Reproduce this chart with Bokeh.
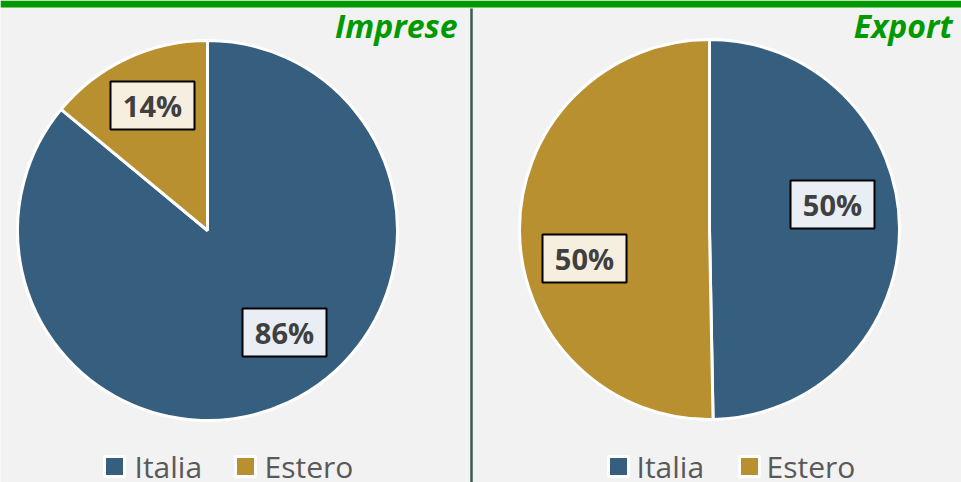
import math
from bokeh.plotting import figure
from bokeh.models import Range1d, ColumnDataSource
from bokeh.core.properties import value
from bokeh.embed import file_html
from bokeh.resources import INLINE

# ---- data ----
panels = ["Imprese", "Export"]
categories = ["Italia", "Estero"]
imprese_values = [86.0, 14.0]
export_values = [49.7, 50.3]
colors = ["#365e7e", "#b8902f"]
label_fills = ["#e9eef5", "#f6efe0"]

# ---- layout (reference pixel coords, y measured from top) ----
W, H = 961, 482
def Y(y):
    return H - y

centers = [(207, 230), (709, 229)]
radius = 190
# label box centres per panel, per category (layout constants)
label_pos = [[(284, 332), (152, 105)], [(832, 204), (584, 258)]]
title_pos = [(457, 25), (952, 25)]
legend_x = [[(114, 134), (245, 264)], [(618, 636), (749, 766)]]
legend_y = 466

p = figure(width=W, height=H, x_range=Range1d(0, W), y_range=Range1d(0, H),
           output_backend="svg", toolbar_location=None, min_border=0)
p.axis.visible = False
p.grid.visible = False
p.outline_line_color = None
p.background_fill_color = "#f2f2f2"
p.border_fill_color = "#f2f2f2"

# top green bar and divider
p.quad(left=[0], right=[W], bottom=[Y(7)], top=[H], fill_color="#009900", line_color=None)
p.segment(x0=[471], y0=[Y(8)], x1=[471], y1=[0], line_color="#3b5a52", line_width=2.5)

for i, vals in enumerate([imprese_values, export_values]):
    cx, cy = centers[i]
    total = sum(vals)
    start = math.pi / 2
    starts, ends = [], []
    for v in vals:
        span = v / total * 2 * math.pi
        # clockwise from 12 o'clock
        ends.append(start)
        starts.append(start - span)
        start = start - span
    src = ColumnDataSource(dict(x=[cx] * len(vals), y=[Y(cy)] * len(vals),
                                start=starts, end=ends, color=colors))
    p.wedge(x="x", y="y", radius=radius, start_angle="start", end_angle="end",
            fill_color="color", line_color="white", line_width=3, source=src)

    # data labels
    lx = [label_pos[i][k][0] for k in range(len(vals))]
    ly = [Y(label_pos[i][k][1]) for k in range(len(vals))]
    txt = [f"{round(v / total * 100):.0f}%" for v in vals]
    p.rect(x=lx, y=ly, width=84, height=48, fill_color=label_fills,
           line_color="black", line_width=2)
    p.text(x=lx, y=ly, text=txt, text_align="center", text_baseline="middle",
           text_font=value("Open Sans"), text_font_style="bold",
           text_font_size="29px", text_color="#404040")

    # title
    tx, ty = title_pos[i]
    p.text(x=[tx], y=[Y(ty)], text=[panels[i]], text_align="right",
           text_baseline="alphabetic", text_font=value("Open Sans"),
           text_font_style="bold italic", text_font_size="32px", text_color="#009900")

    # legend
    for k, cat in enumerate(categories):
        sx, tx2 = legend_x[i][k]
        p.scatter(x=[sx], y=[Y(466)], marker="square", size=20,
                  fill_color=colors[k], line_color="white", line_width=3)
        p.text(x=[tx2], y=[Y(legend_y)], text=[cat], text_align="left",
               text_baseline="alphabetic", text_font=value("Open Sans"),
               text_font_size="30px", text_color="#595959")

open("out.html", "w").write(file_html(p, INLINE))
